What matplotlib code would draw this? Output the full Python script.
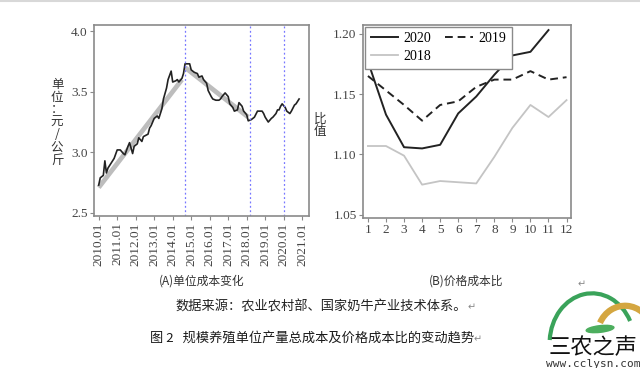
import matplotlib
matplotlib.use('Agg')
import matplotlib.pyplot as plt
from matplotlib.lines import Line2D
from matplotlib.patches import Arc, Ellipse

# ---- data: panel A, unit cost (yuan/kg), x = months since 2010.01
cost_month = [0, 1, 3, 4, 5, 6, 8, 10, 12, 14, 16, 17, 19, 20, 22, 23, 25, 26,
              28, 29, 32, 33, 34, 36, 38, 39, 41, 42, 44, 45, 47, 48, 50, 51,
              52, 54, 55, 56, 58, 59, 60, 62, 64, 65, 67, 68, 70, 71, 73, 74,
              76, 78, 79, 80, 82, 84, 85, 87, 88, 90, 91, 93, 94, 96, 97, 99,
              101, 103, 106, 107, 108, 110, 112, 113, 115, 116, 117, 118, 119,
              121, 122, 124, 125, 127, 128, 130]
cost_value = [2.73, 2.79, 2.81, 2.93, 2.83, 2.87, 2.91, 2.95, 3.02, 3.02, 2.99,
              2.98, 3.05, 3.08, 2.99, 3.05, 3.07, 3.12, 3.09, 3.13, 3.15, 3.20,
              3.22, 3.28, 3.30, 3.28, 3.36, 3.44, 3.53, 3.60, 3.67, 3.58, 3.59,
              3.60, 3.58, 3.61, 3.65, 3.73, 3.73, 3.73, 3.68, 3.66, 3.65, 3.62,
              3.63, 3.60, 3.57, 3.51, 3.46, 3.44, 3.43, 3.43, 3.44, 3.46, 3.49,
              3.46, 3.40, 3.37, 3.34, 3.35, 3.41, 3.38, 3.34, 3.31, 3.26, 3.27,
              3.29, 3.34, 3.34, 3.32, 3.29, 3.25, 3.28, 3.29, 3.32, 3.35, 3.35,
              3.38, 3.40, 3.37, 3.34, 3.32, 3.34, 3.39, 3.40, 3.44]
trend1_month = [0, 54]
trend1_value = [2.71, 3.60]
trend2_month = [56, 97]
trend2_value = [3.70, 3.29]
break_month = [56, 98, 120]
year_labels = ['2010.01', '2011.01', '2012.01', '2013.01', '2014.01', '2015.01',
               '2016.01', '2017.01', '2018.01', '2019.01', '2020.01', '2021.01']

# ---- data: panel B, price / cost ratio by month
months = [1, 2, 3, 4, 5, 6, 7, 8, 9, 10, 11, 12]
ratio_2020 = [1.177, 1.133, 1.106, 1.105, 1.108, 1.134, 1.148, 1.166, 1.182, 1.185, 1.203]
ratio_2019 = [1.165, 1.153, 1.141, 1.128, 1.141, 1.144, 1.156, 1.162, 1.162, 1.169, 1.162, 1.164]
ratio_2018 = [1.107, 1.107, 1.099, 1.075, 1.078, 1.077, 1.076, 1.098, 1.122, 1.141, 1.131, 1.145]

plt.rcParams['font.family'] = ['Liberation Serif', 'Noto Sans CJK SC', 'DejaVu Sans']
cjk = ['Noto Sans CJK SC', 'DejaVu Sans']
spine_c = '#8a8a8a'
tick_c = '#444444'

fig = plt.figure(figsize=(6.4, 3.68), dpi=100)
# thin page border at the top
fig.add_artist(Line2D([0, 1], [0.997, 0.997], color='#d8d8d8', lw=1.5))

# panel A
ax1 = fig.add_axes([0.147, 0.413, 0.336, 0.519])
ax1.plot(trend1_month, trend1_value, color='#bdbdbd', lw=3.4, solid_capstyle='butt')
ax1.plot(trend2_month, trend2_value, color='#bdbdbd', lw=3.4, solid_capstyle='butt')
ax1.plot(cost_month, cost_value, color='#222222', lw=1.2)
for m in break_month:
    ax1.axvline(m, color='#7777ff', lw=0.9, ls=(0, (1.5, 2)))
ax1.set_xlim(-3, 136.5)
ax1.set_ylim(2.475, 4.05)
ax1.set_xticks(range(0, 133, 12))
ax1.set_xticklabels(year_labels, rotation=90)
ax1.set_yticks([2.5, 3.0, 3.5, 4.0])
ax1.set_yticklabels(['2.5', '3.0', '3.5', '4.0'])
ax1.text(-0.172, 0.49, '\n'.join('单位：元/公斤'), transform=ax1.transAxes,
         ha='center', va='center', fontsize=9, family=cjk, color='#333333',
         linespacing=0.95)

# panel B
ax2 = fig.add_axes([0.567, 0.408, 0.325, 0.525])
l20, = ax2.plot(months[:len(ratio_2020)], ratio_2020, color='#222222', lw=1.4)
l19, = ax2.plot(months, ratio_2019, color='#222222', lw=1.4, ls=(0, (4, 2.5)))
l18, = ax2.plot(months, ratio_2018, color='#c4c4c4', lw=1.3)
ax2.set_xlim(0.72, 12.24)
ax2.set_ylim(1.0475, 1.2075)
ax2.set_xticks(months)
ax2.set_yticks([1.05, 1.10, 1.15, 1.20])
ax2.set_yticklabels(['1.05', '1.10', '1.15', '1.20'])
leg = ax2.legend([l20, l18, l19], ['2020', '2018', '2019'], ncol=2,
                 loc='upper left', bbox_to_anchor=(0, 1), borderaxespad=0.15,
                 fontsize=10, handlelength=2.0, handletextpad=0.4,
                 columnspacing=1.0, borderpad=0.4, labelspacing=0.35,
                 fancybox=False, framealpha=1)
leg.get_frame().set_edgecolor(spine_c)
leg.get_frame().set_linewidth(1.0)
ax2.text(-0.205, 0.48, '比\n值', transform=ax2.transAxes, ha='center',
         va='center', fontsize=9, family=cjk, color='#333333', linespacing=0.95)

for ax in (ax1, ax2):
    for s in ax.spines.values():
        s.set_color(spine_c)
        s.set_linewidth(1.2)
    ax.tick_params(direction='out', length=3, width=0.8, color=spine_c,
                   labelsize=9.5, labelcolor=tick_c, pad=1.5)

# captions
fig.text(0.315, 0.236, '(A)单位成本变化', ha='center', va='center', fontsize=8.5,
         family=cjk, color='#333333')
fig.text(0.729, 0.236, '(B)价格成本比', ha='center', va='center', fontsize=8.5,
         family=cjk, color='#333333')
fig.text(0.908, 0.228, '↵', ha='center', va='center', fontsize=7, family=cjk, color='#888888')
fig.text(0.502, 0.166, '数据来源：农业农村部、国家奶牛产业技术体系。', ha='center',
         va='center', fontsize=9.5, family=cjk, color='#222222')
fig.text(0.737, 0.164, '↵', ha='center', va='center', fontsize=7, family=cjk, color='#888888')
fig.text(0.487, 0.081, '图 2   规模养殖单位产量总成本及价格成本比的变动趋势', ha='center',
         va='center', fontsize=9.5, family=cjk, color='#1a1a1a', weight='medium')
fig.text(0.746, 0.079, '↵', ha='center', va='center', fontsize=7, family=cjk, color='#888888')

# watermark
logo = fig.add_axes([0.844, 0.0, 0.156, 0.2255])
logo.set_xlim(0, 1)
logo.set_ylim(0, 1)
logo.axis('off')
logo.add_patch(Arc((0.52, 0.3), 0.85, 1.2, theta1=35, theta2=175, color='#3aa35a', lw=3))
logo.add_patch(Arc((0.85, 0.4), 0.55, 0.7, theta1=20, theta2=150, color='#d4a640', lw=4.5))
logo.add_patch(Ellipse((0.6, 0.47), 0.28, 0.08, angle=8, color='#4cae5e'))
logo.text(0.53, 0.24, '三农之声', ha='center', va='center', fontsize=16, family=cjk,
          color='#111111')
logo.text(0.53, 0.05, 'www.cclysn.com', ha='center', va='center', fontsize=8,
          family='DejaVu Sans Mono', color='#333333')

fig.savefig('out.png', dpi=100)
